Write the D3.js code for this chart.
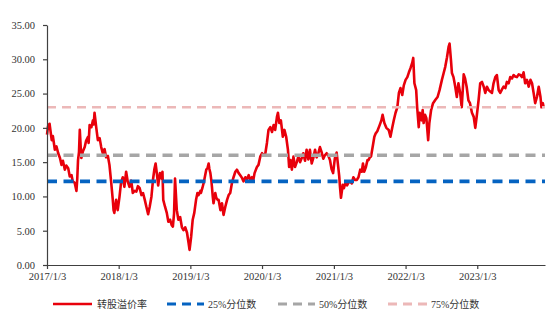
<!DOCTYPE html>
<html><head><meta charset="utf-8">
<script src="https://cdn.jsdelivr.net/npm/d3@7"></script>
<style>body{margin:0;background:#fff}svg{display:block}</style>
</head><body>
<svg id="c" width="554" height="327"></svg>
<script>
// Dates are year + day-of-year (%Y-%j)
const dates = [
"2017-003","2017-008","2017-016","2017-027","2017-033","2017-043","2017-051","2017-060","2017-069","2017-077","2017-084","2017-094","2017-101","2017-111","2017-119","2017-128","2017-134","2017-144","2017-153","2017-157","2017-161","2017-166","2017-170","2017-175","2017-178","2017-185","2017-195","2017-202","2017-212","2017-215","2017-220","2017-229","2017-237","2017-241","2017-245","2017-254","2017-262","2017-271","2017-279","2017-287","2017-296","2017-304","2017-313","2017-321","2017-330","2017-338","2017-342","2017-346","2017-355","2017-363",
"2018-007","2018-015","2018-024","2018-032","2018-041","2018-049","2018-058","2018-067","2018-075","2018-084","2018-093","2018-101","2018-110","2018-119","2018-127","2018-136","2018-144","2018-153","2018-161","2018-170","2018-178","2018-185","2018-191","2018-198","2018-204","2018-213","2018-222","2018-226","2018-230","2018-239","2018-248","2018-256","2018-265","2018-273","2018-279","2018-285","2018-290","2018-296","2018-299","2018-307","2018-316","2018-325","2018-333","2018-342","2018-351","2018-359","2018-364",
"2019-007","2019-015","2019-023","2019-032","2019-039","2019-045","2019-054","2019-057","2019-064","2019-071","2019-078","2019-084","2019-091","2019-096","2019-100","2019-105","2019-110","2019-113","2019-117","2019-121","2019-130","2019-135","2019-142","2019-147","2019-150","2019-156","2019-164","2019-172","2019-181","2019-190","2019-198","2019-206","2019-215","2019-223","2019-232","2019-240","2019-249","2019-257","2019-266","2019-274","2019-283","2019-291","2019-300","2019-308","2019-317","2019-323","2019-330","2019-342","2019-350","2019-359",
"2020-003","2020-011","2020-020","2020-028","2020-036","2020-045","2020-054","2020-062","2020-070","2020-079","2020-084","2020-091","2020-099","2020-109","2020-117","2020-126","2020-135","2020-141","2020-148","2020-155","2020-163","2020-171","2020-180","2020-188","2020-197","2020-205","2020-213","2020-222","2020-230","2020-239","2020-247","2020-256","2020-264","2020-273","2020-281","2020-289","2020-298","2020-306","2020-315","2020-323","2020-332","2020-340","2020-349","2020-357","2020-365",
"2021-008","2021-017","2021-025","2021-030","2021-034","2021-039","2021-048","2021-054","2021-062","2021-070","2021-077","2021-085","2021-094","2021-102","2021-111","2021-120","2021-128","2021-137","2021-145","2021-151","2021-157","2021-166","2021-174","2021-179","2021-188","2021-192","2021-202","2021-209","2021-216","2021-224","2021-236","2021-245","2021-251","2021-260","2021-270","2021-282","2021-291","2021-300","2021-308","2021-317","2021-326","2021-334","2021-342","2021-351","2021-359",
"2022-003","2022-012","2022-020","2022-028","2022-037","2022-042","2022-048","2022-057","2022-062","2022-070","2022-075","2022-084","2022-090","2022-095","2022-102","2022-109","2022-118","2022-124","2022-133","2022-143","2022-155","2022-166","2022-176","2022-188","2022-197","2022-205","2022-214","2022-222","2022-227","2022-234","2022-239","2022-247","2022-256","2022-264","2022-272","2022-281","2022-289","2022-299","2022-306","2022-314","2022-323","2022-331","2022-341","2022-350","2022-358","2022-365",
"2023-010","2023-018","2023-027","2023-036","2023-044","2023-052","2023-061","2023-069","2023-078","2023-086","2023-095","2023-103","2023-112","2023-120","2023-129","2023-137","2023-146","2023-154","2023-163","2023-171","2023-180","2023-188","2023-196","2023-205","2023-214","2023-222","2023-231","2023-239","2023-247","2023-256","2023-265","2023-274","2023-282","2023-290","2023-298","2023-307","2023-316","2023-325","2023-330","2023-337","2023-342"
];
const premium = [
19.0,20.2,20.6,18.2,18.8,16.8,17.3,16.3,15.6,14.6,15.2,13.9,14.5,14.1,12.9,13.1,12.2,12.0,10.8,12.5,15.3,16.5,19.7,17.0,15.6,16.5,17.2,18.1,18.7,17.8,20.4,20.1,21.1,20.5,22.2,20.0,18.2,18.5,17.2,16.3,16.9,15.7,15.9,14.6,12.0,9.5,8.0,7.6,9.5,8.0,
9.9,12.0,12.8,11.4,13.6,12.2,11.4,12.3,10.5,10.8,10.7,11.5,11.2,10.2,10.5,9.5,8.5,7.4,8.5,10.0,12.5,14.0,14.8,13.2,11.6,13.4,12.6,13.6,9.5,8.5,7.6,6.3,6.6,5.8,5.6,7.5,12.6,9.5,8.0,6.6,7.0,5.5,5.1,5.5,4.7,3.2,2.2,
4.1,6.6,7.6,9.5,10.5,10.2,10.8,10.5,11.2,12.0,13.0,13.9,14.2,14.8,14.0,13.4,12.3,11.4,10.0,9.0,10.5,9.8,9.5,9.5,9.0,8.0,9.0,7.3,8.5,9.5,10.2,10.5,12.0,12.8,13.6,13.9,13.4,13.1,12.7,12.2,12.8,12.5,13.1,12.4,12.8,12.3,13.4,14.3,14.6,15.8,
16.3,16.0,16.3,17.8,19.7,20.1,19.4,20.4,19.7,21.6,22.2,20.7,21.1,18.7,19.7,18.7,16.8,14.3,15.3,13.9,15.8,14.3,15.0,15.8,15.0,15.6,16.3,15.2,16.8,15.4,16.8,14.8,15.6,16.8,15.7,16.2,17.2,16.5,15.5,16.0,16.3,16.0,15.3,14.0,13.4,
15.6,16.4,14.3,13.0,11.4,9.8,11.7,11.2,12.0,11.6,12.0,12.2,11.9,12.8,12.4,12.4,12.8,13.9,13.6,14.8,13.6,14.3,15.3,15.3,15.8,15.8,17.5,18.7,19.2,19.5,20.4,21.1,21.9,20.7,20.0,19.7,18.7,20.0,21.1,22.2,23.0,25.1,25.8,24.8,26.2,
27.0,27.4,28.1,28.7,29.5,30.2,26.5,25.5,23.0,20.1,22.2,21.1,22.6,20.7,21.9,21.4,18.2,20.7,22.6,23.6,24.1,24.5,25.5,27.0,28.0,28.9,30.3,31.8,32.3,29.9,28.0,27.4,26.0,24.5,26.5,25.1,23.0,27.8,27.2,26.0,24.0,23.6,22.2,21.6,20.0,21.6,
24.1,26.5,26.7,26.0,25.1,26.0,25.5,25.3,25.1,26.5,27.4,27.7,25.5,25.1,25.6,26.0,25.8,26.7,26.5,27.4,27.2,27.7,27.5,27.4,27.8,27.7,27.4,28.1,26.5,27.0,26.0,27.0,26.5,25.1,23.6,24.5,26.0,24.5,23.0,23.6,22.9
];
const seriesNames = ["转股溢价率", "25%分位数", "50%分位数", "75%分位数"];
const quantileValues = [12.2, 16.0, 23.0];
const yTicks = [0, 5, 10, 15, 20, 25, 30, 35];
const xTickDates = ["2017-01-03","2018-01-03","2019-01-03","2020-01-03","2021-01-03","2022-01-03","2023-01-03"];
const xTickLabels = ["2017/1/3","2018/1/3","2019/1/3","2020/1/3","2021/1/3","2022/1/3","2023/1/3"];
const xDomain = ["2017-01-03", "2023-12-14"];

const colors = ["#e8000b", "#0563c1", "#a6a6a6", "#ecb8b8"];
const parseJ = d3.timeParse("%Y-%j");
const parseD = d3.timeParse("%Y-%m-%d");
const data = dates.map((d, i) => ({ date: parseJ(d), value: premium[i] }));

const svg = d3.select("#c");
const x = d3.scaleTime().domain(xDomain.map(parseD)).range([47, 545]);
const y = d3.scaleLinear().domain([0, 35]).range([265, 25]);
const font = "'Liberation Serif','Times New Roman','Noto Sans CJK SC',serif";

// red line
svg.append("path").datum(data)
  .attr("fill", "none").attr("stroke", colors[0]).attr("stroke-width", 2.6)
  .attr("stroke-linejoin", "round")
  .attr("d", d3.line().x(d => x(d.date)).y(d => y(d.value)));

// quantile lines
const qStyles = [{w:3.6, dash:"10,6.5"}, {w:3.6, dash:"10,6.5"}, {w:2.6, dash:"9,6"}];
quantileValues.forEach((v, i) => {
  svg.append("line")
    .attr("x1", x.range()[0]).attr("x2", x.range()[1])
    .attr("y1", y(v)).attr("y2", y(v))
    .attr("stroke", colors[i + 1]).attr("stroke-width", qStyles[i].w)
    .attr("stroke-dasharray", qStyles[i].dash);
});

// axes
const yAxis = svg.append("g").attr("transform", "translate(47,0)")
  .call(d3.axisLeft(y).tickValues(yTicks).tickFormat(d3.format(".2f")).tickSize(4).tickSizeOuter(0).tickPadding(8));
const xAxis = svg.append("g").attr("transform", "translate(0,265)")
  .call(d3.axisBottom(x).tickValues(xTickDates.map(parseD)).tickFormat((d, i) => xTickLabels[i]).tickSize(4).tickSizeOuter(0).tickPadding(4));
[yAxis, xAxis].forEach(g => {
  g.selectAll("path,line").attr("stroke", "#404040").attr("stroke-width", 1.2);
  g.selectAll("text").attr("fill", "#333").style("font-family", font).style("font-size", "10.5px");
});

// legend
const legendY = 304;
const legendItems = [
  {x1: 53, x2: 92, tx: 97, w: 2.6, dash: null},
  {x1: 167, x2: 204, tx: 208, w: 3, dash: "9,6"},
  {x1: 278, x2: 315, tx: 319, w: 3, dash: "9,6"},
  {x1: 388, x2: 428, tx: 431, w: 3, dash: "9,6"}
];
legendItems.forEach((it, i) => {
  svg.append("line").attr("x1", it.x1).attr("x2", it.x2).attr("y1", legendY).attr("y2", legendY)
    .attr("stroke", colors[i]).attr("stroke-width", it.w)
    .attr("stroke-dasharray", it.dash);
  svg.append("text").attr("x", it.tx).attr("y", legendY).attr("dy", "0.35em")
    .attr("fill", "#333").style("font-family", font).style("font-size", "10px")
    .text(seriesNames[i]);
});
</script>
</body></html>
